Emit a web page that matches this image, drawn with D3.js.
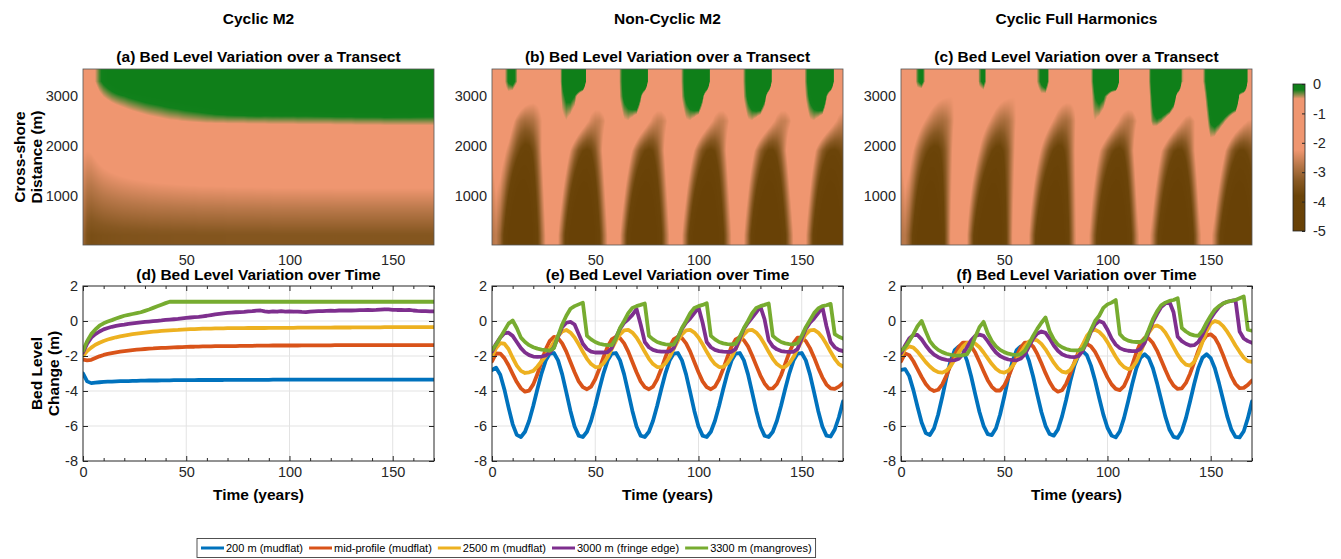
<!DOCTYPE html>
<html>
<head>
<meta charset="utf-8">
<script src="https://cdn.jsdelivr.net/npm/d3@7"></script>
<style>
  body { margin: 0; background: #fff; }
  svg text { font-family: "Liberation Sans", Arial, Helvetica, sans-serif; }
  .tick text { font-size: 14.5px; fill: #262626; }
  .tick line { stroke: #262626; }
</style>
</head>
<body>
<div id="chart"></div>
<script>
var years = d3.range(0, 171, 2);
var transectDistances = [200, 1900, 2500, 3000, 3300];

var seriesLabels = ["200 m (mudflat)", "mid-profile (mudflat)", "2500 m (mudflat)", "3000 m (fringe edge)", "3300 m (mangroves)"];
var seriesColors = ["#0072bd", "#d95319", "#edb120", "#7e2f8e", "#77ac30"];
var columnTitles = ["Cyclic M2", "Non-Cyclic M2", "Cyclic Full Harmonics"];
var mapTitles = ["(a) Bed Level Variation over a Transect", "(b) Bed Level Variation over a Transect", "(c) Bed Level Variation over a Transect"];
var lineTitles = ["(d) Bed Level Variation over Time", "(e) Bed Level Variation over Time", "(f) Bed Level Variation over Time"];
var timeTicks = [0, 50, 100, 150];
var mapTimeTicks = [50, 100, 150];
var distanceTicks = [1000, 2000, 3000];
var levelTicks = [-8, -6, -4, -2, 0, 2];
var colorbarTicks = [0, -1, -2, -3, -4, -5];

// Cyclic M2
var cm2_200 = [
  -3.00, -3.45, -3.55, -3.52, -3.50, -3.48, -3.47, -3.46, -3.45, -3.44,
  -3.43, -3.43, -3.42, -3.42, -3.41, -3.41, -3.40, -3.40, -3.40, -3.39,
  -3.39, -3.39, -3.38, -3.38, -3.38, -3.38, -3.38, -3.38, -3.37, -3.37,
  -3.37, -3.37, -3.37, -3.37, -3.37, -3.36, -3.36, -3.36, -3.36, -3.36,
  -3.36, -3.36, -3.36, -3.36, -3.36, -3.36, -3.35, -3.35, -3.35, -3.35,
  -3.35, -3.35, -3.35, -3.35, -3.35, -3.35, -3.35, -3.35, -3.35, -3.35,
  -3.35, -3.35, -3.35, -3.35, -3.35, -3.35, -3.35, -3.35, -3.35, -3.35,
  -3.35, -3.35, -3.35, -3.35, -3.35, -3.35, -3.35, -3.35, -3.35, -3.35,
  -3.35, -3.35, -3.35, -3.35, -3.35, -3.35];
var cm2_mid = [
  -2.20, -2.25, -2.22, -2.12, -2.02, -1.94, -1.88, -1.83, -1.79, -1.75,
  -1.72, -1.69, -1.66, -1.64, -1.62, -1.60, -1.58, -1.57, -1.55, -1.54,
  -1.53, -1.52, -1.51, -1.50, -1.49, -1.48, -1.47, -1.47, -1.46, -1.45,
  -1.45, -1.45, -1.44, -1.44, -1.44, -1.43, -1.43, -1.43, -1.42, -1.42,
  -1.42, -1.42, -1.41, -1.41, -1.41, -1.41, -1.40, -1.40, -1.40, -1.40,
  -1.40, -1.40, -1.40, -1.39, -1.39, -1.39, -1.39, -1.39, -1.39, -1.39,
  -1.39, -1.38, -1.38, -1.38, -1.38, -1.38, -1.38, -1.38, -1.38, -1.38,
  -1.38, -1.38, -1.38, -1.38, -1.38, -1.38, -1.38, -1.38, -1.38, -1.38,
  -1.38, -1.38, -1.38, -1.38, -1.38, -1.38];
var cm2_2500 = [
  -2.00, -1.72, -1.52, -1.36, -1.24, -1.14, -1.06, -0.99, -0.93, -0.88,
  -0.83, -0.79, -0.75, -0.72, -0.69, -0.66, -0.63, -0.61, -0.59, -0.57,
  -0.55, -0.53, -0.52, -0.51, -0.49, -0.48, -0.47, -0.46, -0.45, -0.44,
  -0.43, -0.43, -0.42, -0.42, -0.42, -0.41, -0.41, -0.41, -0.41, -0.41,
  -0.40, -0.40, -0.40, -0.40, -0.40, -0.39, -0.39, -0.39, -0.39, -0.39,
  -0.39, -0.39, -0.38, -0.38, -0.38, -0.38, -0.38, -0.38, -0.38, -0.38,
  -0.38, -0.37, -0.37, -0.37, -0.37, -0.37, -0.36, -0.36, -0.36, -0.36,
  -0.36, -0.36, -0.36, -0.35, -0.35, -0.35, -0.35, -0.35, -0.35, -0.35,
  -0.35, -0.35, -0.35, -0.35, -0.35, -0.35];
var cm2_3000 = [
  -1.80, -1.30, -0.95, -0.75, -0.60, -0.48, -0.40, -0.33, -0.28, -0.24,
  -0.21, -0.17, -0.14, -0.11, -0.08, -0.05, -0.03, -0.01, 0.01, 0.03,
  0.06, 0.08, 0.10, 0.12, 0.15, 0.18, 0.20, 0.22, 0.24, 0.27,
  0.30, 0.34, 0.38, 0.41, 0.44, 0.46, 0.48, 0.50, 0.51, 0.52,
  0.55, 0.56, 0.59, 0.60, 0.55, 0.52, 0.55, 0.53, 0.56, 0.54,
  0.55, 0.53, 0.54, 0.52, 0.51, 0.53, 0.55, 0.56, 0.57, 0.58,
  0.59, 0.58, 0.60, 0.61, 0.60, 0.60, 0.61, 0.62, 0.62, 0.63,
  0.62, 0.63, 0.65, 0.67, 0.66, 0.64, 0.63, 0.63, 0.62, 0.64,
  0.60, 0.58, 0.57, 0.56, 0.55, 0.55];
var cm2_3300 = [
  -1.70, -1.15, -0.75, -0.48, -0.27, -0.13, -0.03, 0.05, 0.14, 0.22,
  0.30, 0.35, 0.40, 0.45, 0.50, 0.58, 0.66, 0.75, 0.84, 0.93,
  1.02, 1.10, 1.10, 1.10, 1.10, 1.10, 1.10, 1.10, 1.10, 1.10,
  1.10, 1.10, 1.10, 1.10, 1.10, 1.10, 1.10, 1.10, 1.10, 1.10,
  1.10, 1.10, 1.10, 1.10, 1.10, 1.10, 1.10, 1.10, 1.10, 1.10,
  1.10, 1.10, 1.10, 1.10, 1.10, 1.10, 1.10, 1.10, 1.10, 1.10,
  1.10, 1.10, 1.10, 1.10, 1.10, 1.10, 1.10, 1.10, 1.10, 1.10,
  1.10, 1.10, 1.10, 1.10, 1.10, 1.10, 1.10, 1.10, 1.10, 1.10,
  1.10, 1.10, 1.10, 1.10, 1.10, 1.10];

// Non-Cyclic M2
var nc_200 = [
  -2.80, -2.67, -3.07, -3.91, -4.94, -5.89, -6.51, -6.63, -6.33, -5.70,
  -4.84, -3.89, -2.99, -2.26, -1.86, -1.83, -2.25, -3.05, -4.08, -5.14,
  -6.03, -6.55, -6.63, -6.33, -5.70, -4.84, -3.89, -2.99, -2.26, -1.86,
  -1.83, -2.25, -3.05, -4.08, -5.14, -6.03, -6.55, -6.63, -6.33, -5.70,
  -4.84, -3.89, -2.99, -2.26, -1.86, -1.83, -2.25, -3.05, -4.08, -5.14,
  -6.03, -6.55, -6.63, -6.33, -5.70, -4.84, -3.89, -2.99, -2.26, -1.86,
  -1.83, -2.25, -3.05, -4.08, -5.14, -6.03, -6.55, -6.63, -6.33, -5.70,
  -4.84, -3.89, -2.99, -2.26, -1.86, -1.83, -2.25, -3.05, -4.08, -5.14,
  -6.03, -6.55, -6.60, -6.20, -5.50, -4.60];
var nc_mid = [
  -2.30, -1.85, -1.86, -2.12, -2.53, -3.02, -3.49, -3.85, -4.04, -3.98,
  -3.62, -3.03, -2.31, -1.62, -1.13, -0.91, -0.98, -1.28, -1.75, -2.34,
  -2.93, -3.45, -3.78, -3.90, -3.75, -3.33, -2.73, -2.07, -1.47, -1.05,
  -0.90, -0.98, -1.28, -1.75, -2.34, -2.93, -3.45, -3.78, -3.90, -3.75,
  -3.33, -2.73, -2.07, -1.47, -1.05, -0.90, -0.98, -1.28, -1.75, -2.34,
  -2.93, -3.45, -3.78, -3.90, -3.75, -3.33, -2.73, -2.07, -1.47, -1.05,
  -0.93, -1.10, -1.45, -1.97, -2.55, -3.12, -3.57, -3.86, -3.85, -3.60,
  -3.10, -2.45, -1.80, -1.27, -0.95, -0.95, -1.15, -1.55, -2.08, -2.68,
  -3.22, -3.63, -3.85, -3.88, -3.75, -3.55];
var nc_2500 = [
  -2.00, -1.55, -1.27, -1.30, -1.60, -2.10, -2.55, -2.85, -2.97, -2.93,
  -2.85, -2.60, -2.30, -2.00, -1.60, -1.20, -0.85, -0.60, -0.51, -0.66,
  -0.94, -1.33, -1.76, -2.16, -2.46, -2.63, -2.62, -2.42, -2.06, -1.60,
  -1.13, -0.76, -0.54, -0.51, -0.66, -0.94, -1.33, -1.76, -2.16, -2.46,
  -2.63, -2.62, -2.42, -2.06, -1.60, -1.13, -0.76, -0.54, -0.51, -0.66,
  -0.94, -1.33, -1.76, -2.16, -2.46, -2.63, -2.62, -2.42, -2.06, -1.60,
  -1.13, -0.76, -0.54, -0.51, -0.66, -0.94, -1.33, -1.76, -2.16, -2.46,
  -2.63, -2.62, -2.42, -2.06, -1.60, -1.13, -0.76, -0.54, -0.51, -0.66,
  -0.94, -1.33, -1.76, -2.16, -2.46, -2.60];
var nc_3000 = [
  -1.75, -1.30, -0.95, -0.70, -0.67, -0.85, -1.20, -1.55, -1.80, -1.95,
  -2.03, -2.05, -2.03, -1.97, -1.80, -1.50, -0.90, -0.35, -0.10, -0.05,
  -0.20, -0.75, -1.30, -1.60, -1.75, -1.80, -1.80, -1.80, -1.78, -1.55,
  -0.95, -0.45, -0.10, 0.10, 0.35, 0.68, -0.20, -1.20, -1.50, -1.65,
  -1.72, -1.75, -1.75, -1.74, -1.55, -0.95, -0.45, -0.10, 0.15, 0.45,
  0.78, -0.10, -1.20, -1.50, -1.65, -1.72, -1.75, -1.77, -1.76, -1.60,
  -1.00, -0.45, -0.10, 0.20, 0.50, 0.82, 0.10, -1.10, -1.45, -1.62,
  -1.72, -1.75, -1.77, -1.76, -1.60, -1.00, -0.45, -0.10, 0.15, 0.45,
  0.80, -0.30, -1.20, -1.50, -1.65, -1.72];
var nc_3300 = [
  -1.65, -1.35, -0.95, -0.55, -0.15, 0.03, -0.40, -0.95, -1.20, -1.38,
  -1.50, -1.58, -1.63, -1.67, -1.70, -1.55, -0.85, -0.20, 0.30, 0.70,
  0.85, 0.95, 1.05, -0.85, -1.05, -1.20, -1.30, -1.35, -1.38, -1.38,
  -1.00, -0.40, 0.00, 0.45, 0.75, 0.85, 0.92, 1.00, -0.85, -1.05,
  -1.20, -1.28, -1.33, -1.35, -1.35, -0.95, -0.40, 0.00, 0.45, 0.75,
  0.85, 0.92, 1.02, -0.85, -1.05, -1.20, -1.28, -1.32, -1.33, -1.30,
  -0.90, -0.40, 0.00, 0.45, 0.75, 0.85, 0.92, 1.00, -0.85, -1.05,
  -1.20, -1.28, -1.32, -1.33, -1.28, -0.85, -0.35, 0.05, 0.45, 0.72,
  0.85, 0.90, 0.98, -0.75, -0.90, -1.00];

// Cyclic Full Harmonics
var fh_200 = [
  -2.80, -2.75, -3.15, -3.95, -4.90, -5.80, -6.40, -6.52, -6.13, -5.34,
  -4.33, -3.24, -2.29, -1.66, -1.45, -1.68, -2.28, -3.17, -4.21, -5.20,
  -5.99, -6.46, -6.52, -6.13, -5.34, -4.33, -3.24, -2.29, -1.66, -1.45,
  -1.68, -2.28, -3.17, -4.21, -5.20, -5.99, -6.46, -6.55, -6.20, -5.45,
  -4.50, -3.45, -2.55, -1.95, -1.72, -1.95, -2.55, -3.40, -4.40, -5.35,
  -6.10, -6.55, -6.65, -6.30, -5.55, -4.60, -3.60, -2.70, -2.10, -1.90,
  -2.12, -2.70, -3.55, -4.50, -5.45, -6.20, -6.62, -6.68, -6.30, -5.55,
  -4.60, -3.60, -2.70, -2.10, -1.90, -2.12, -2.70, -3.55, -4.50, -5.45,
  -6.20, -6.62, -6.65, -6.30, -5.55, -4.60];
var fh_mid = [
  -2.30, -1.85, -1.95, -2.30, -2.75, -3.20, -3.60, -3.88, -4.00, -3.93,
  -3.62, -3.12, -2.53, -1.94, -1.48, -1.23, -1.23, -1.44, -1.82, -2.33,
  -2.87, -3.38, -3.76, -3.97, -3.97, -3.69, -3.21, -2.60, -1.99, -1.51,
  -1.23, -1.23, -1.46, -1.88, -2.41, -2.98, -3.49, -3.87, -4.04, -3.96,
  -3.59, -3.00, -2.35, -1.75, -1.39, -1.31, -1.45, -1.77, -2.22, -2.73,
  -3.22, -3.62, -3.88, -3.95, -3.72, -3.20, -2.51, -1.80, -1.24, -0.97,
  -1.00, -1.26, -1.69, -2.23, -2.79, -3.31, -3.69, -3.88, -3.85, -3.54,
  -3.01, -2.36, -1.70, -1.15, -0.82, -0.76, -0.96, -1.38, -1.95, -2.58,
  -3.16, -3.60, -3.83, -3.82, -3.65, -3.40];
var fh_2500 = [
  -2.00, -1.60, -1.45, -1.52, -1.75, -2.05, -2.35, -2.60, -2.80, -2.92,
  -2.95, -2.84, -2.58, -2.20, -1.81, -1.47, -1.25, -1.20, -1.30, -1.50,
  -1.80, -2.13, -2.46, -2.73, -2.90, -2.95, -2.84, -2.58, -2.21, -1.80,
  -1.44, -1.17, -1.05, -1.11, -1.31, -1.62, -2.00, -2.38, -2.69, -2.89,
  -2.95, -2.79, -2.42, -1.89, -1.35, -0.86, -0.57, -0.50, -0.62, -0.86,
  -1.21, -1.63, -2.04, -2.39, -2.63, -2.75, -2.67, -2.33, -1.80, -1.20,
  -0.66, -0.33, -0.26, -0.38, -0.66, -1.05, -1.49, -1.92, -2.26, -2.49,
  -2.55, -2.33, -1.85, -1.21, -0.59, -0.15, 0.00, -0.08, -0.29, -0.61,
  -0.99, -1.40, -1.76, -2.09, -2.29, -2.33];
var fh_3000 = [
  -1.85, -1.40, -1.00, -0.80, -0.80, -1.05, -1.40, -1.70, -1.92, -2.07,
  -2.17, -2.22, -2.25, -2.24, -2.15, -1.90, -1.50, -1.10, -0.85, -0.78,
  -0.85, -1.15, -1.50, -1.80, -2.00, -2.12, -2.20, -2.24, -2.25, -2.15,
  -1.90, -1.45, -1.00, -0.72, -0.60, -0.68, -1.00, -1.40, -1.70, -1.90,
  -2.00, -2.05, -2.07, -2.00, -1.70, -1.20, -0.60, -0.20, 0.00, -0.10,
  -0.50, -1.00, -1.35, -1.55, -1.65, -1.70, -1.72, -1.72, -1.60, -1.25,
  -0.60, -0.05, 0.40, 0.80, 1.00, 1.10, 0.50, -0.90, -1.15, -1.30,
  -1.40, -1.38, -1.20, -0.80, -0.30, 0.15, 0.50, 0.80, 1.00, 1.10,
  1.15, 1.20, -0.60, -1.00, -1.15, -1.25];
var fh_3300 = [
  -1.70, -1.50, -1.15, -0.75, -0.30, 0.00, -0.60, -1.15, -1.45, -1.65,
  -1.78, -1.87, -1.93, -1.97, -1.98, -1.95, -1.90, -1.50, -0.90, -0.35,
  -0.05, -0.70, -1.15, -1.45, -1.65, -1.78, -1.87, -1.92, -1.93, -1.90,
  -1.70, -1.30, -0.85, -0.45, -0.10, 0.20, -0.60, -1.05, -1.35, -1.50,
  -1.60, -1.66, -1.68, -1.68, -1.60, -1.15, -0.50, 0.00, 0.30, 0.75,
  0.95, 1.05, 1.20, -0.75, -1.00, -1.12, -1.18, -1.20, -1.20, -1.05,
  -0.50, 0.10, 0.55, 0.90, 1.05, 1.15, 1.20, 1.30, -0.40, -0.60,
  -0.75, -0.82, -0.85, -0.55, -0.10, 0.30, 0.65, 0.85, 1.00, 1.10,
  1.15, 1.20, 1.30, 1.40, -0.50, -0.55];

var scenarios = [
  [cm2_200, cm2_mid, cm2_2500, cm2_3000, cm2_3300],
  [nc_200, nc_mid, nc_2500, nc_3000, nc_3300],
  [fh_200, fh_mid, fh_2500, fh_3000, fh_3300]
];

// Section 2: layout
var svgWidth = 1341;
var svgHeight = 559;
var colLeft = [83, 492, 901];
var panelWidth = 351;
var mapTop = 69, mapHeight = 176;
var lineTop = 286, lineHeight = 175;

// plain hyphen minus, no thousands separator (as in the figure)
var plainFormat = function (d) { return String(d); };

var svg = d3.select("#chart").append("svg")
  .attr("width", svgWidth)
  .attr("height", svgHeight);

// bed level colour map (brown -> salmon -> green)
var bedColor = d3.scaleLinear()
  .domain([-5, -3.8, -3.3, -2.75, -2.25, -0.5, -0.2, 0])
  .range(["#684106", "#6b4409", "#875822", "#b9784a", "#ef9670", "#ef9670", "#11801b", "#0f7f19"])
  .clamp(true);

var mapY = d3.scaleLinear().domain([0, 3550]).range([mapTop + mapHeight, mapTop]);
var lineY = d3.scaleLinear().domain([-8, 2]).range([lineTop + lineHeight, lineTop]);

function mapImage(series, x) {
  var canvas = document.createElement("canvas");
  canvas.width = panelWidth;
  canvas.height = mapHeight;
  var ctx = canvas.getContext("2d");
  var img = ctx.createImageData(panelWidth, mapHeight);
  var timeScales = series.map(function (s) {
    return d3.scaleLinear().domain(years).range(s).clamp(true);
  });
  for (var px = 0; px < panelWidth; px++) {
    var t = x.invert(x.range()[0] + px + 0.5);
    var profile = d3.scaleLinear()
      .domain(transectDistances)
      .range(timeScales.map(function (f) { return f(t); }))
      .clamp(true);
    for (var py = 0; py < mapHeight; py++) {
      var c = d3.rgb(bedColor(profile(mapY.invert(mapTop + py + 0.5))));
      var k = (py * panelWidth + px) * 4;
      img.data[k] = c.r;
      img.data[k + 1] = c.g;
      img.data[k + 2] = c.b;
      img.data[k + 3] = 255;
    }
  }
  ctx.putImageData(img, 0, 0);
  return canvas.toDataURL();
}

function styleAxis(g) {
  g.select(".domain").remove();
}

scenarios.forEach(function (series, i) {
  var left = colLeft[i];
  var cx = left + panelWidth / 2;
  var x = d3.scaleLinear().domain([0, 170]).range([left, left + panelWidth]);

  // column title
  svg.append("text")
    .attr("x", cx).attr("y", 24)
    .attr("text-anchor", "middle")
    .attr("font-size", "15.5px").attr("font-weight", "bold")
    .text(columnTitles[i]);

  // ---- top: transect map ----
  svg.append("text")
    .attr("x", cx).attr("y", 62)
    .attr("text-anchor", "middle")
    .attr("font-size", "15.5px").attr("font-weight", "bold")
    .text(mapTitles[i]);

  svg.append("image")
    .attr("href", mapImage(series, x))
    .attr("x", left).attr("y", mapTop)
    .attr("width", panelWidth).attr("height", mapHeight)
    .attr("preserveAspectRatio", "none");

  svg.append("rect")
    .attr("x", left).attr("y", mapTop)
    .attr("width", panelWidth).attr("height", mapHeight)
    .attr("fill", "none").attr("stroke", "#555").attr("stroke-width", 0.8);

  svg.append("g")
    .attr("transform", `translate(0, ${mapTop + mapHeight})`)
    .call(d3.axisBottom(x).tickValues(mapTimeTicks).tickSize(0).tickPadding(10).tickFormat(plainFormat))
    .call(styleAxis);

  svg.append("g")
    .attr("transform", `translate(${left}, 0)`)
    .call(d3.axisLeft(mapY).tickValues(distanceTicks).tickSize(0).tickPadding(5).tickFormat(plainFormat))
    .call(styleAxis);

  // ---- bottom: time series ----
  svg.append("text")
    .attr("x", cx).attr("y", 280)
    .attr("text-anchor", "middle")
    .attr("font-size", "15.5px").attr("font-weight", "bold")
    .text(lineTitles[i]);

  var grid = svg.append("g").attr("stroke", "#e3e3e3").attr("stroke-width", 1);
  grid.selectAll(".vgrid").data([50, 100, 150]).enter().append("line")
    .attr("x1", (d) => x(d)).attr("x2", (d) => x(d))
    .attr("y1", lineTop).attr("y2", lineTop + lineHeight);
  grid.selectAll(".hgrid").data([-6, -4, -2, 0]).enter().append("line")
    .attr("x1", left).attr("x2", left + panelWidth)
    .attr("y1", (d) => lineY(d)).attr("y2", (d) => lineY(d));

  var clipId = "clip" + i;
  svg.append("clipPath").attr("id", clipId).append("rect")
    .attr("x", left).attr("y", lineTop)
    .attr("width", panelWidth).attr("height", lineHeight);

  var line = d3.line()
    .x((d, j) => x(years[j]))
    .y((d) => lineY(d));

  svg.append("g").attr("clip-path", `url(#${clipId})`)
    .selectAll("path")
    .data(series)
    .enter()
    .append("path")
    .attr("d", line)
    .attr("fill", "none")
    .attr("stroke", (d, j) => seriesColors[j])
    .attr("stroke-width", 3.8)
    .attr("stroke-linejoin", "round")
    .attr("stroke-linecap", "round");

  var minorTicks = d3.range(0, 171, 10).filter((d) => d % 50 !== 0);

  svg.append("g")
    .attr("transform", `translate(0, ${lineTop + lineHeight})`)
    .call(d3.axisBottom(x).tickValues(timeTicks).tickSize(-5).tickPadding(6).tickFormat(plainFormat))
    .call(styleAxis);
  svg.append("g")
    .attr("transform", `translate(0, ${lineTop + lineHeight})`)
    .call(d3.axisBottom(x).tickValues(minorTicks).tickSize(-3).tickFormat(""))
    .call(styleAxis);
  svg.append("g")
    .attr("transform", `translate(0, ${lineTop})`)
    .call(d3.axisTop(x).tickValues(timeTicks).tickSize(-5).tickFormat(""))
    .call(styleAxis);
  svg.append("g")
    .attr("transform", `translate(0, ${lineTop})`)
    .call(d3.axisTop(x).tickValues(minorTicks).tickSize(-3).tickFormat(""))
    .call(styleAxis);
  svg.append("g")
    .attr("transform", `translate(${left}, 0)`)
    .call(d3.axisLeft(lineY).tickValues(levelTicks).tickSize(-5).tickPadding(5).tickFormat(plainFormat))
    .call(styleAxis);
  svg.append("g")
    .attr("transform", `translate(${left + panelWidth}, 0)`)
    .call(d3.axisRight(lineY).tickValues(levelTicks).tickSize(-5).tickFormat(""))
    .call(styleAxis);

  svg.append("rect")
    .attr("x", left).attr("y", lineTop)
    .attr("width", panelWidth).attr("height", lineHeight)
    .attr("fill", "none").attr("stroke", "#262626").attr("stroke-width", 1);

  svg.append("text")
    .attr("x", cx).attr("y", 500)
    .attr("text-anchor", "middle")
    .attr("font-size", "15.5px").attr("font-weight", "bold")
    .text("Time (years)");
});

// y axis labels (two lines, rotated)
function yLabel(lines, xs, cy) {
  lines.forEach(function (txt, k) {
    svg.append("text")
      .attr("transform", `translate(${xs[k]}, ${cy}) rotate(-90)`)
      .attr("text-anchor", "middle")
      .attr("font-size", "15.5px").attr("font-weight", "bold")
      .text(txt);
  });
}
yLabel(["Cross-shore", "Distance (m)"], [25, 42], mapTop + mapHeight / 2);
yLabel(["Bed Level", "Change (m)"], [42, 59], lineTop + lineHeight / 2);

// colorbar
var cbX = 1293, cbTop = 84, cbWidth = 12, cbHeight = 147;
var cbScale = d3.scaleLinear().domain([0, -5]).range([cbTop, cbTop + cbHeight]);
var grad = svg.append("defs").append("linearGradient")
  .attr("id", "bedGrad").attr("x1", 0).attr("y1", 0).attr("x2", 0).attr("y2", 1);
bedColor.domain().slice().reverse().forEach(function (v) {
  grad.append("stop")
    .attr("offset", (-v / 5 * 100) + "%")
    .attr("stop-color", bedColor(v));
});
svg.append("rect")
  .attr("x", cbX).attr("y", cbTop)
  .attr("width", cbWidth).attr("height", cbHeight)
  .attr("fill", "url(#bedGrad)")
  .attr("stroke", "#262626").attr("stroke-width", 0.8);
svg.append("g")
  .attr("transform", `translate(${cbX + cbWidth}, 0)`)
  .call(d3.axisRight(cbScale).tickValues(colorbarTicks).tickSize(-3).tickPadding(8).tickFormat(plainFormat))
  .call(styleAxis);

// legend
var legend = svg.append("g");
var lx = 201, ly = 548;
seriesLabels.forEach(function (label, j) {
  legend.append("line")
    .attr("x1", lx).attr("x2", lx + 23)
    .attr("y1", ly).attr("y2", ly)
    .attr("stroke", seriesColors[j]).attr("stroke-width", 3);
  var t = legend.append("text")
    .attr("x", lx + 25).attr("y", ly + 4)
    .attr("font-size", "11px").attr("fill", "#000")
    .text(label);
  lx += 25 + t.node().getComputedTextLength() + 6;
});
legend.insert("rect", ":first-child")
  .attr("x", 197).attr("y", 538.5)
  .attr("width", lx - 197 - 2).attr("height", 19)
  .attr("fill", "#fff").attr("stroke", "#262626").attr("stroke-width", 0.8);
</script>
</body>
</html>
